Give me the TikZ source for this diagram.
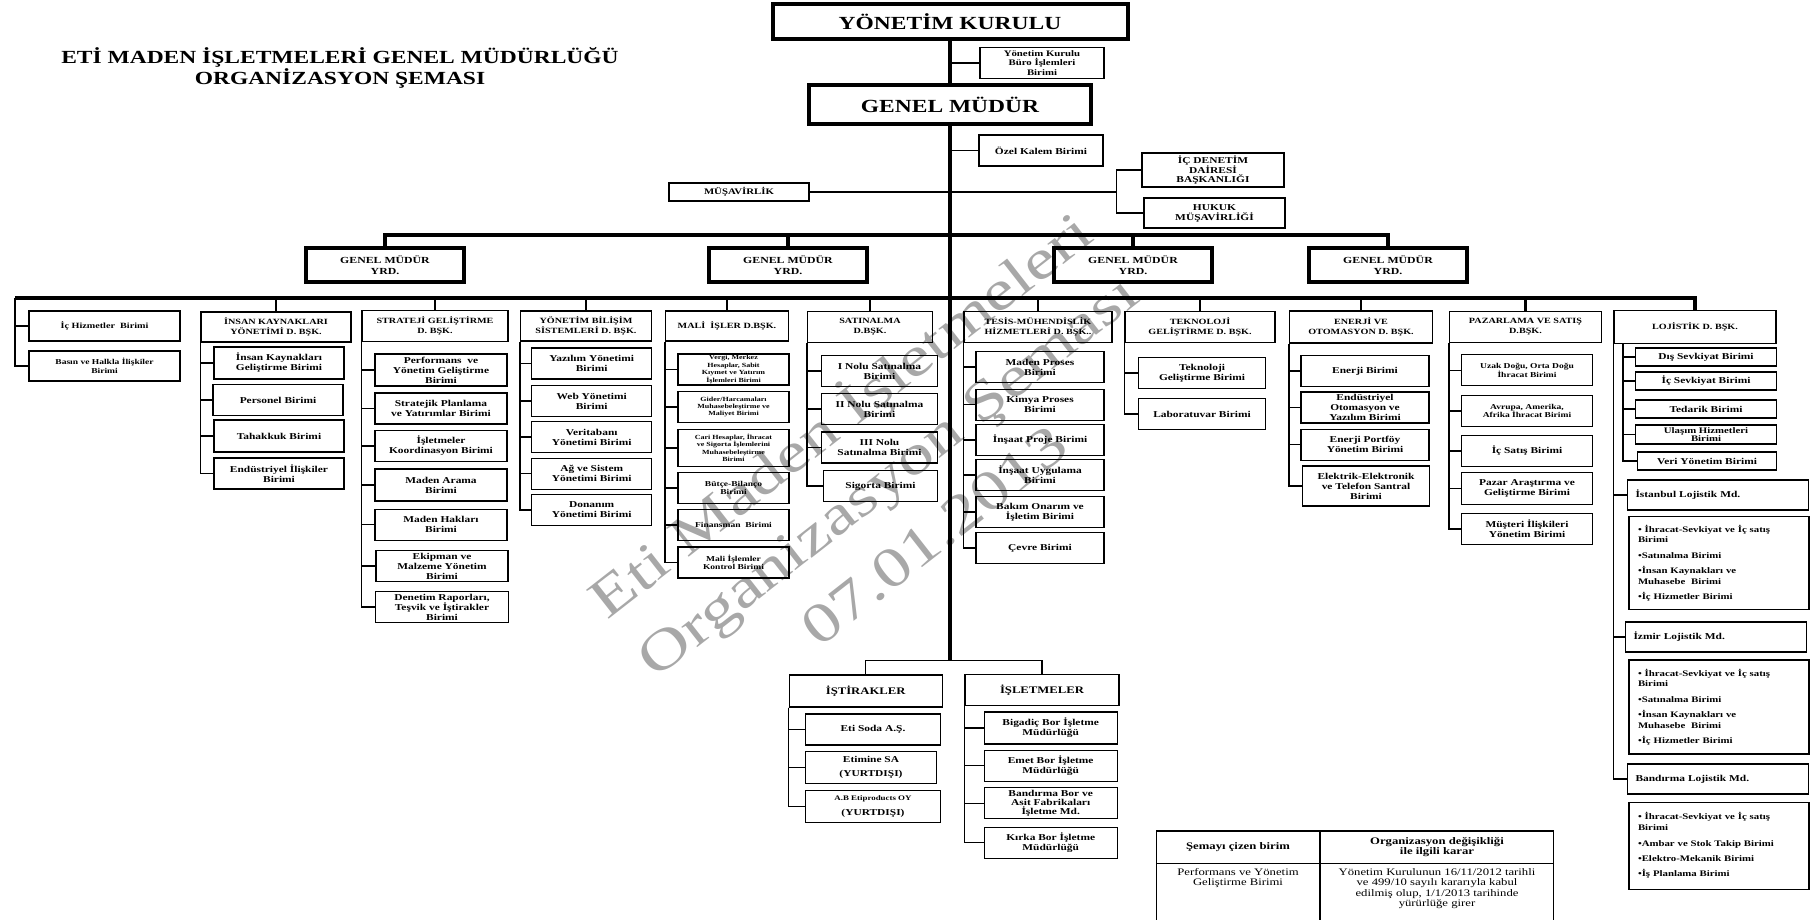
\documentclass[tikz,border=0pt]{standalone}
\usepackage{fontspec}
\setmainfont{Liberation Serif}[FakeStretch=1.27]
\newcommand{\fBig}{\bfseries\fontsize{18.5}{21}\selectfont}
\newcommand{\fGmy}{\bfseries\fontsize{9.3}{11}\selectfont}
\newcommand{\fHead}{\bfseries\fontsize{8}{10}\selectfont}
\newcommand{\fUnit}{\bfseries\fontsize{9}{10}\selectfont}
\newcommand{\fMid}{\bfseries\fontsize{8.5}{9.5}\selectfont}
\newcommand{\fDen}{\bfseries\fontsize{9}{8.5}\selectfont}
\newcommand{\fSmall}{\bfseries\fontsize{7.5}{8.5}\selectfont}
\newcommand{\fTiny}{\bfseries\fontsize{6.3}{7.4}\selectfont}
\newcommand{\fList}{\bfseries\fontsize{8.5}{10.5}\selectfont}
\newcommand{\fTbl}{\fontsize{10}{10.5}\selectfont}
\tikzset{
  unitbox/.style n args={2}{draw,line width=1.1pt,minimum width=#1pt,minimum height=#2pt,inner sep=0pt,align=center,font=\fUnit},
  headbox/.style n args={2}{unitbox={#1}{#2},font=\fHead},
  gmybox/.style={unitbox={158}{34},line width=3.5pt,font=\fGmy},
  topbox/.style n args={2}{unitbox={#1}{#2},line width=4pt,font=\fBig},
  mdbox/.style={draw,line width=1.1pt,minimum height=30pt,text width=165pt,inner xsep=8pt,inner ysep=0pt,align=left,font=\fUnit},
  listbox/.style={draw,line width=1.1pt,minimum height=#1pt,text width=162pt,inner xsep=9pt,inner ysep=0pt,align=left,font=\fList},
  railline/.style={line width=1.1pt},
  dropline/.style={line width=2.6pt},
  barline/.style={line width=3.2pt},
  spineline/.style={line width=3.8pt},
  tblline/.style={line width=1.2pt}
}
\begin{document}
\begin{tikzpicture}[x=1pt,y=-1pt]
\useasboundingbox(0,0)rectangle(1812,919);
\node[font=\fBig,align=center](title)at(340,68){ETİ MADEN İŞLETMELERİ GENEL MÜDÜRLÜĞÜ\\ORGANİZASYON ŞEMASI};
% ust yonetim
\node[topbox={355}{35}](yk)at(950,21.5){YÖNETİM KURULU};
\node[unitbox={124}{31},font=\fMid](buro)at(1042,63){Yönetim Kurulu\\Büro İşlemleri\\Birimi};
\node[topbox={282}{39}](gm)at(950,104.5){GENEL MÜDÜR};
\node[unitbox={124}{31}](ozel)at(1041,150.5){Özel Kalem Birimi};
\node[unitbox={140}{18},font=\fMid](musav)at(739,192){MÜŞAVİRLİK};
\node[unitbox={142}{34},font=\fDen](icden)at(1213,170){İÇ DENETİM\\DAİRESİ\\BAŞKANLIĞI};
\node[unitbox={141}{30}](hukuk)at(1214.5,213){HUKUK\\MÜŞAVİRLİĞİ};
\coordinate(tb)at(950,235);
\coordinate(lb)at(950,298);
\coordinate(lbL)at(15,298);
\coordinate(fork)at(950,660.7);
\coordinate(brk)at(1116.5,192);
\draw[spineline](yk.south)--(gm.north);
\draw[spineline](gm.south)--(fork);
\draw[railline](buro.west)--(buro.west-|yk.south);
\draw[railline](ozel.west)--(ozel.west-|gm.south);
\draw[railline](musav.east)--(brk);
\draw[railline](icden.west)-|(brk)|-(hukuk.west);
% genel mudur yardimcilari
\node[gmybox](gmy1)at(385,265){GENEL MÜDÜR\\YRD.};
\node[gmybox](gmy2)at(788,265){GENEL MÜDÜR\\YRD.};
\node[gmybox](gmy3)at(1133,265){GENEL MÜDÜR\\YRD.};
\node[gmybox](gmy4)at(1388,265){GENEL MÜDÜR\\YRD.};
\draw[barline](gmy1.north)--(gmy1.north|-tb)--(gmy4.north|-tb)--(gmy4.north);
\foreach \g in {gmy2,gmy3}\draw[barline](\g.north)--(\g.north|-tb);
% daire baskanliklari
\node[unitbox={151}{30},font=\fHead](ihiz)at(104.5,326){İç Hizmetler\ \ Birimi};
\node[unitbox={151}{30},font=\fSmall](basin)at(104.5,366){Basın ve Halkla İlişkiler\\Birimi};
\node[headbox={150}{30}](ik)at(276,327){İNSAN KAYNAKLARI\\YÖNETİMİ D. BŞK.};
\node[headbox={146}{31}](sg)at(435,326){STRATEJİ GELİŞTİRME\\D. BŞK.};
\node[headbox={131}{30}](ybs)at(586,326){YÖNETİM BİLİŞİM\\SİSTEMLERİ D. BŞK.};
\node[headbox={123}{30}](mali)at(727,326){MALİ\ \ İŞLER D.BŞK.};
\node[headbox={125}{31}](satin)at(870,327){SATINALMA\\D.BŞK.};
\node[headbox={148}{31}](tesis)at(1038,327){TESİS-MÜHENDİSLİK\\HİZMETLERİ D. BŞK..};
\node[headbox={150}{31}](tekno)at(1200,327){TEKNOLOJİ\\GELİŞTİRME D. BŞK.};
\node[headbox={143}{32}](enerji)at(1361,327){ENERJİ VE\\OTOMASYON D. BŞK.};
\node[headbox={152}{31}](paz)at(1525.5,327){PAZARLAMA VE SATIŞ\\D.BŞK.};
\node[headbox={162}{33}](loj)at(1695,327){LOJİSTİK D. BŞK.};
\draw[barline](lbL)--(loj.north|-lb)--(loj.north);
\foreach \h in {ik,sg,ybs,mali,satin,tesis,tekno,enerji,paz}\draw[dropline](\h.north)--(\h.north|-lb);
\draw[railline](lbL)|-(basin.west);
\draw[railline](lbL|-ihiz.west)--(ihiz.west);
% insan kaynaklari
\node[unitbox={130}{32}](ik1)at(279,363){İnsan Kaynakları\\Geliştirme Birimi};
\node[unitbox={130}{31}](ik2)at(278,400){Personel Birimi};
\node[unitbox={130}{32}](ik3)at(279,436){Tahakkuk Birimi};
\node[unitbox={130}{31}](ik4)at(279,473.5){Endüstriyel İlişkiler\\Birimi};
\foreach \i in {1,...,4}\draw[railline](ik.south west)|-(ik\i.west);
% strateji
\node[unitbox={132}{32}](sg1)at(441,370){Performans\ \ ve\\Yönetim Geliştirme\\Birimi};
\node[unitbox={132}{31}](sg2)at(441,408.5){Stratejik Planlama\\ve Yatırımlar Birimi};
\node[unitbox={132}{31}](sg3)at(441,446){İşletmeler\\Koordinasyon Birimi};
\node[unitbox={132}{32}](sg4)at(441,485){Maden Arama\\Birimi};
\node[unitbox={132}{31}](sg5)at(441,524.7){Maden Hakları\\Birimi};
\node[unitbox={132}{31}](sg6)at(442,566){Ekipman ve\\Malzeme Yönetim\\Birimi};
\node[unitbox={133}{31}](sg7)at(442,607){Denetim Raporları,\\Teşvik ve İştirakler\\Birimi};
\foreach \i in {1,...,7}\draw[railline](sg.south west)|-(sg\i.west);
% yonetim bilisim
\node[unitbox={120}{31}](ybs1)at(591.7,363.5){Yazılım Yönetimi\\Birimi};
\node[unitbox={120}{31}](ybs2)at(591.7,401){Web Yönetimi\\Birimi};
\node[unitbox={120}{31}](ybs3)at(591.7,437){Veritabanı\\Yönetimi Birimi};
\node[unitbox={120}{31}](ybs4)at(591.7,473.7){Ağ ve Sistem\\Yönetimi Birimi};
\node[unitbox={120}{31}](ybs5)at(591.7,510){Donanım\\Yönetimi Birimi};
\foreach \i in {1,...,5}\draw[railline](ybs.south west)|-(ybs\i.west);
% mali isler
\node[unitbox={111}{31},font=\fTiny](mali1)at(733.5,369.5){Vergi, Merkez\\Hesaplar, Sabit\\Kıymet ve Yatırım\\İşlemleri Birimi};
\node[unitbox={111}{31},font=\bfseries\fontsize{6.3}{6.6}\selectfont](mali2)at(733.5,407){Gider/Harcamaları\\Muhasebeleştirme ve\\Maliyet Birimi};
\node[unitbox={111}{37},font=\fTiny](mali3)at(733.5,448){Cari Hesaplar, İhracat\\ve Sigorta İşlemlerini\\Muhasebeleştirme\\Birimi};
\node[unitbox={111}{31},font=\fSmall](mali4)at(733.5,488){Bütçe-Bilanço\\Birimi};
\node[unitbox={111}{31},font=\fSmall](mali5)at(733.5,525){Finansman\ \ Birimi};
\node[unitbox={111}{31},font=\fSmall](mali6)at(733.5,562.5){Mali İşlemler\\Kontrol Birimi};
\foreach \i in {1,...,6}\draw[railline](mali.south west)|-(mali\i.west);
% satinalma
\node[unitbox={116}{31}](sat1)at(879.5,371){I Nolu Satınalma\\Birimi};
\node[unitbox={116}{31}](sat2)at(879.5,409){II Nolu Satınalma\\Birimi};
\node[unitbox={116}{31}](sat3)at(879.5,447.5){III Nolu\\Satınalma Birimi};
\node[unitbox={114}{31}](sat4)at(880.5,486){Sigorta Birimi};
\foreach \i in {1,...,4}\draw[railline](satin.south west)|-(sat\i.west);
% tesis muhendislik
\node[unitbox={128}{31}](tes1)at(1040,367){Maden Proses\\Birimi};
\node[unitbox={128}{31}](tes2)at(1040,404.7){Kimya Proses\\Birimi};
\node[unitbox={128}{31}](tes3)at(1040,440){İnşaat Proje Birimi};
\node[unitbox={128}{31}](tes4)at(1040,475){İnşaat Uygulama\\Birimi};
\node[unitbox={128}{31}](tes5)at(1040,512){Bakım Onarım ve\\İşletim Birimi};
\node[unitbox={128}{31}](tes6)at(1040,548){Çevre Birimi};
\foreach \i in {1,...,6}\draw[railline](tesis.south west)|-(tes\i.west);
% teknoloji
\node[unitbox={127}{31}](tek1)at(1202,373){Teknoloji\\Geliştirme Birimi};
\node[unitbox={127}{31}](tek2)at(1202,414){Laboratuvar Birimi};
\foreach \i in {1,2}\draw[railline](tekno.south west)|-(tek\i.west);
% enerji
\node[unitbox={128}{31}](en1)at(1365,371){Enerji Birimi};
\node[unitbox={128}{31}](en2)at(1365,407.5){Endüstriyel\\Otomasyon ve\\Yazılım Birimi};
\node[unitbox={128}{31}](en3)at(1365,444.7){Enerji Portföy\\Yönetim Birimi};
\node[unitbox={127}{40}](en4)at(1366,486){Elektrik-Elektronik\\ve Telefon Santral\\Birimi};
\foreach \i in {1,...,4}\draw[railline](enerji.south west)|-(en\i.west);
% pazarlama
\node[unitbox={131}{31},font=\fSmall](paz1)at(1527,370.3){Uzak Doğu, Orta Doğu\\İhracat Birimi};
\node[unitbox={131}{31},font=\fSmall](paz2)at(1527,411){Avrupa, Amerika,\\Afrika İhracat Birimi};
\node[unitbox={131}{31}](paz3)at(1527,451){İç Satış Birimi};
\node[unitbox={131}{32}](paz4)at(1527,488.5){Pazar Araştırma ve\\Geliştirme Birimi};
\node[unitbox={131}{31}](paz5)at(1527,529){Müşteri İlişkileri\\Yönetim Birimi};
\foreach \i in {1,...,5}\draw[railline](paz.south west)|-(paz\i.west);
% lojistik
\node[unitbox={141}{18}](loj1)at(1706,357){Dış Sevkiyat Birimi};
\node[unitbox={141}{18}](loj2)at(1706,381){İç Sevkiyat Birimi};
\node[unitbox={141}{18}](loj3)at(1706,409){Tedarik Birimi};
\node[unitbox={141}{19},font=\bfseries\fontsize{8.5}{8.5}\selectfont](loj4)at(1706,434.5){Ulaşım Hizmetleri\\Birimi};
\node[unitbox={139}{18}](loj5)at(1707,461){Veri Yönetim Birimi};
\coordinate(lojR)at(1623,344);
\foreach \i in {1,...,5}\draw[railline](lojR)|-(loj\i.west);
\node[mdbox](ist)at(1718,495){İstanbul Lojistik Md.};
\node[listbox=93](istL)at(1719,563){• İhracat-Sevkiyat ve İç satış\\Birimi\\[5pt]•Satınalma Birimi\\[5pt]•İnsan Kaynakları ve\\Muhasebe\ \ Birimi\\[5pt]•İç Hizmetler Birimi};
\node[mdbox](izm)at(1716,637){İzmir Lojistik Md.};
\node[listbox=94](izmL)at(1719,707){• İhracat-Sevkiyat ve İç satış\\Birimi\\[5pt]•Satınalma Birimi\\[5pt]•İnsan Kaynakları ve\\Muhasebe\ \ Birimi\\[5pt]•İç Hizmetler Birimi};
\node[mdbox](band)at(1718,779){Bandırma Lojistik Md.};
\node[listbox=87](bandL)at(1719,845.7){• İhracat-Sevkiyat ve İç satış\\Birimi\\[6pt]•Ambar ve Stok Takip Birimi\\[4pt]•Elektro-Mekanik Birimi\\[5pt]•İş Planlama Birimi};
\foreach \m in {ist,izm,band}\draw[railline](loj.south west)|-(\m.west);
% istirakler ve isletmeler
\node[unitbox={153}{32},font=\bfseries\fontsize{10}{11}\selectfont](istirak)at(865.7,691){İŞTİRAKLER};
\node[unitbox={154}{31},font=\bfseries\fontsize{10}{11}\selectfont](islet)at(1042,690){İŞLETMELER};
\draw[railline](istirak.north)|-(fork)-|(islet.north);
\node[unitbox={135}{31}](ist1)at(873,729.5){Eti Soda A.Ş.};
\node[unitbox={131}{32}](ist2)at(871,767.5){Etimine SA\\[4pt](YURTDIŞI)};
\node[unitbox={135}{32}](ist3)at(873,806.5){{\fontsize{7}{8}\selectfont A.B Etiproducts OY}\\[5pt](YURTDIŞI)};
\foreach \i in {1,2,3}\draw[railline](istirak.south west)|-(ist\i.west);
\node[unitbox={133}{32}](isl1)at(1050.7,728){Bigadiç Bor İşletme\\Müdürlüğü};
\node[unitbox={133}{31}](isl2)at(1050.7,765.7){Emet Bor İşletme\\Müdürlüğü};
\node[unitbox={133}{31},font=\bfseries\fontsize{9}{9}\selectfont](isl3)at(1050.7,803.3){Bandırma Bor ve\\Asit Fabrikaları\\İşletme Md.};
\node[unitbox={133}{31}](isl4)at(1050.7,842.8){Kırka Bor İşletme\\Müdürlüğü};
\foreach \i in {1,...,4}\draw[railline](islet.south west)|-(isl\i.west);
% tablo
\draw[tblline](1156.7,922)|-(1553.3,831)--(1553.3,922);
\draw[tblline](1320,831)--(1320,922);
\draw[tblline](1156.7,863.3)--(1553.3,863.3);
\node[font=\bfseries\fontsize{10}{10}\selectfont](tblA)at(1238,847){Şemayı çizen birim};
\node[font=\bfseries\fontsize{10}{10}\selectfont,align=center](tblB)at(1437,847){Organizasyon değişikliği\\ile ilgili karar};
\node[font=\fTbl,align=center,anchor=north,inner sep=2pt](tblC)at(1238,866){Performans ve Yönetim\\Geliştirme Birimi};
\node[font=\fTbl,align=center,anchor=north,inner sep=2pt](tblD)at(1437,866){Yönetim Kurulunun 16/11/2012 tarihli\\ve 499/10 sayılı kararıyla kabul\\edilmiş olup, 1/1/2013 tarihinde\\yürürlüğe girer};
% filigran
\node[rotate=38,align=center,opacity=.34,font=\fontsize{56}{76}\selectfont](wm)at(885,472){Eti Maden İşletmeleri\\Organizasyon Şeması\\07.01.2013};
\end{tikzpicture}
\end{document}
